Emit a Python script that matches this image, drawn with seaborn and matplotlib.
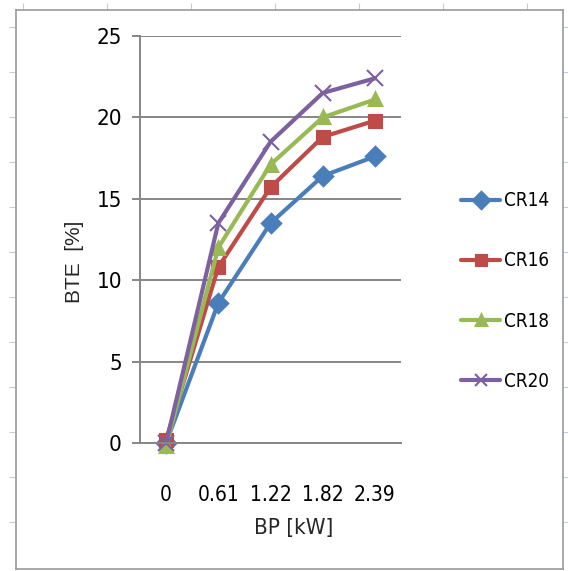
import numpy as np
import pandas as pd
import matplotlib.pyplot as plt
import seaborn as sns

# data
bp = ["0", "0.61", "1.22", "1.82", "2.39"]
cr14 = [0.0, 8.6, 13.5, 16.4, 17.6]
cr16 = [0.2, 10.8, 15.7, 18.8, 19.8]
cr18 = [-0.2, 12.0, 17.1, 20.0, 21.1]
cr20 = [0.0, 13.5, 18.5, 21.5, 22.4]
series = ["CR14", "CR16", "CR18", "CR20"]
colors = ["#4A7EBB", "#BE4B48", "#98B954", "#7D60A0"]
markers = ["D", "s", "^", "x"]

df = pd.DataFrame({
    "BP": bp * 4,
    "BTE": cr14 + cr16 + cr18 + cr20,
    "CR": [s for s in series for _ in bp],
})

sns.set_style("white")
plt.rcParams["font.family"] = ["DejaVu Sans"]
plt.rcParams["font.stretch"] = "condensed"
plt.rcParams["font.weight"] = "medium"
plt.rcParams["text.color"] = "black"
plt.rcParams["xtick.labelcolor"] = "black"
plt.rcParams["ytick.labelcolor"] = "black"

fig = plt.figure(figsize=(5.68, 5.71), dpi=100)

# outer chart frame (sheet border with faint row/column ticks)
fr = fig.add_axes([16/568, 2/571, 547/568, 559/571], zorder=-1)
fr.set_xlim(0, 547)
fr.set_ylim(559, 0)
for s in fr.spines.values():
    s.set_color("#9a9a9a")
    s.set_linewidth(1.2)
fr.set_xticks(np.arange(7, 547, 84))
fr.set_yticks(np.arange(512, 0, -45))
fr.tick_params(axis="x", top=True, bottom=False, labeltop=False, labelbottom=False,
               direction="out", length=5, color="#c5ccd8")
fr.tick_params(axis="y", left=True, right=True, labelleft=False, labelright=False,
               direction="out", length=5, color="#c5ccd8")

ax = fig.add_axes([140/568, 1 - 443/571, 261/568, 407/571])
sns.pointplot(data=df, x="BP", y="BTE", hue="CR", order=bp, hue_order=series,
              palette=colors, markers=markers, linestyles="-", errorbar=None,
              markersize=9, linewidth=3, ax=ax)

for ln in ax.lines:
    ln.set_clip_on(False)
    if ln.get_marker() == "x":
        ln.set_markersize(11)
        ln.set_markeredgewidth(1.5)
for c in ax.collections:
    c.set_clip_on(False)

ax.set_xlim(-0.5, 4.5)
ax.set_ylim(0, 25)
ax.set_yticks(range(0, 26, 5))
ax.grid(axis="y", color="#868686", linewidth=1.4)
ax.set_axisbelow(True)
for side in ["top", "right"]:
    ax.spines[side].set_visible(False)
for side in ["left", "bottom"]:
    ax.spines[side].set_color("#868686")
    ax.spines[side].set_linewidth(1.4)

ax.set_xticks(np.arange(-0.5, 5, 1), minor=True)
ax.tick_params(axis="x", which="minor", direction="out", length=7, width=1.4,
               color="#868686")
ax.tick_params(axis="x", which="major", length=0, pad=30, labelsize=15)
ax.tick_params(axis="y", direction="out", length=6, width=1.4, color="#868686",
               pad=7, labelsize=16, left=True)

ax.set_xlabel("BP [kW]", fontsize=16)
ax.xaxis.set_label_coords(0.59, -0.185)
ax.set_ylabel("BTE  [%]", fontsize=15, family=["Liberation Sans", "DejaVu Sans"])
ax.yaxis.set_label_coords(-0.215, 0.445)

handles, labels = ax.get_legend_handles_labels()
ax.legend(handles, labels, loc="center left", bbox_to_anchor=(461/568, 1 - 291/571),
          bbox_transform=fig.transFigure, frameon=False, fontsize=13.5,
          borderpad=0, borderaxespad=0, labelspacing=2.2, handlelength=2.1,
          handletextpad=0.17, markerscale=0.85)

fig.savefig("out.png", dpi=100)
